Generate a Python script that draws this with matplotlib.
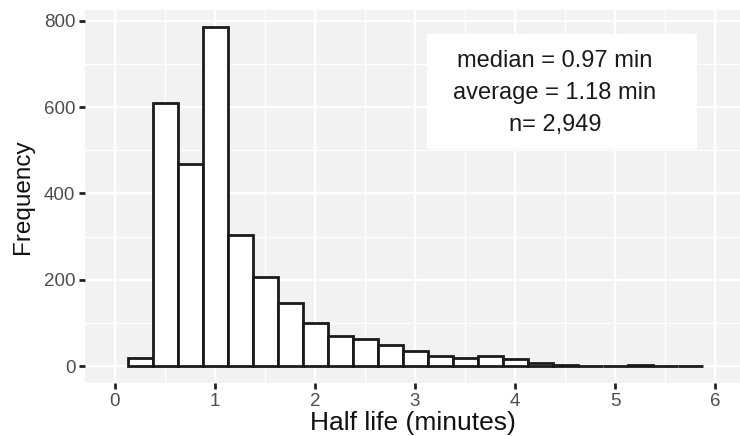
import matplotlib
matplotlib.use('Agg')
import matplotlib.pyplot as plt
from matplotlib.patches import Rectangle
import numpy as np

# histogram of half lives, bin width 0.25 min
bin_centers = np.arange(0.25, 5.76, 0.25)
counts = [19, 609, 469, 785, 304, 207, 147, 100, 70, 62, 49, 34, 23, 18, 24, 16, 6, 3, 1, 1, 3, 1, 1]

x_ticks = [0, 1, 2, 3, 4, 5, 6]
y_ticks = [0, 200, 400, 600, 800]
stats_text = "median = 0.97 min\naverage = 1.18 min\nn= 2,949"

plt.rcParams['font.family'] = ['Liberation Sans', 'DejaVu Sans']

fig = plt.figure(figsize=(7.4, 4.36), dpi=100)
ax = fig.add_axes([85 / 740, 1 - 383 / 436, 1 - 85 / 740, (383 - 10) / 436])
ax.set_facecolor('#F1F2F4')

ax.bar(bin_centers, counts, width=0.25, color='white', edgecolor='#1a1a1a',
       linewidth=2, zorder=2)

ax.set_xlim(-0.3, 6.25)
ax.set_ylim(-39.3, 825)

ax.set_xticks(x_ticks)
ax.set_yticks(y_ticks)
ax.set_xticks(np.arange(0.5, 6.3, 1), minor=True)
ax.set_yticks([100, 300, 500, 700], minor=True)
ax.grid(which='major', color='white', linewidth=1.7, zorder=0)
ax.grid(which='minor', color='white', linewidth=0.9, zorder=0)
ax.set_axisbelow(True)
ax.tick_params(which='major', length=4, width=2, color='#222222',
               labelsize=13.5, labelcolor='#4D4D4D', pad=3)
ax.tick_params(which='minor', length=0)
for s in ax.spines.values():
    s.set_visible(False)

ax.set_xlabel('Half life (minutes)', fontsize=19, color='#111111', labelpad=1)
ax.set_ylabel('Frequency', fontsize=17.5, color='#111111', labelpad=7)

ax.add_patch(Rectangle((3.12, 502), 2.7, 268, facecolor='white',
                       edgecolor='none', zorder=3))
ax.text(4.4, 632, stats_text, ha='center', va='center', fontsize=17,
        color='#1a1a1a', linespacing=1.6, zorder=4)

fig.savefig('out.png', dpi=100)
